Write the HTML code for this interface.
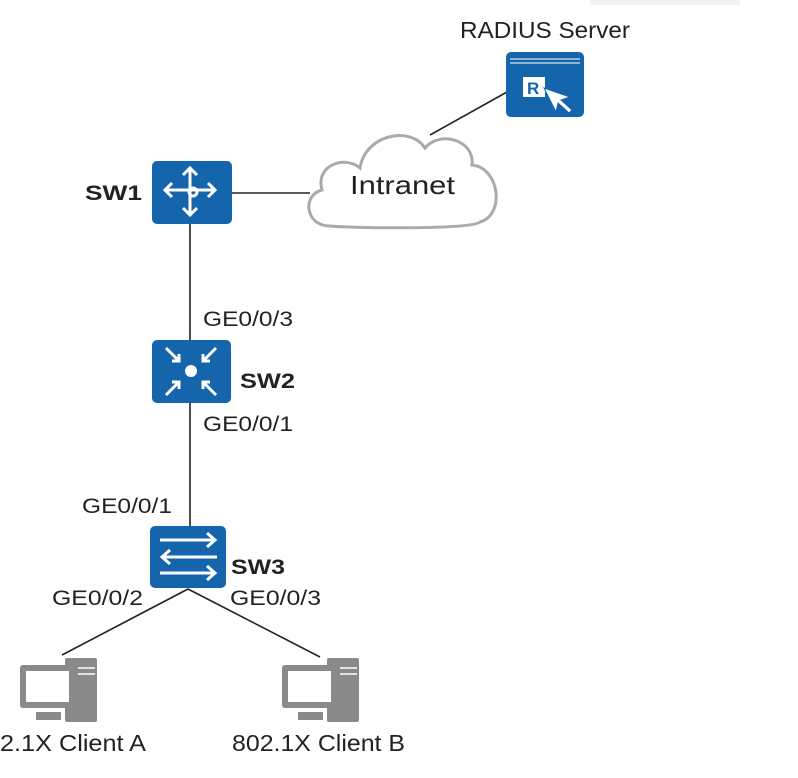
<!DOCTYPE html>
<html><head><meta charset="utf-8"><style>
body{margin:0;background:#fff;width:798px;height:778px;overflow:hidden}
svg{display:block}
text{font-family:"Liberation Sans",sans-serif;fill:#222}
</style></head><body>
<svg width="798" height="778" viewBox="0 0 798 778">
<rect x="590" y="0" width="150" height="5" fill="#f2f2f2"/>
<g stroke="#222" stroke-width="1.6" fill="none">
<line x1="232" y1="193" x2="310" y2="193"/>
<line x1="430" y1="135" x2="507" y2="92"/>
<line x1="190" y1="224" x2="190" y2="340"/>
<line x1="190" y1="403" x2="190" y2="526"/>
<line x1="188" y1="589" x2="62" y2="655"/>
<line x1="188" y1="589" x2="320" y2="657"/>
</g>
<path d="M330,226 C305,226 302,195 322,190 C315,165 345,155 360,168 C365,135 410,125 425,148 C440,130 475,140 472,165 C500,168 505,215 480,222 C470,230 350,228 330,226 Z" fill="#fff" stroke="#aaa" stroke-width="3"/>
<text x="350" y="194" font-size="26" textLength="105" lengthAdjust="spacingAndGlyphs">Intranet</text>
<text x="460" y="38" font-size="23" textLength="170" lengthAdjust="spacingAndGlyphs">RADIUS Server</text>
<rect x="506" y="52" width="78" height="65" rx="5" fill="#1565ad"/>
<line x1="510" y1="59" x2="580" y2="59" stroke="#fff" stroke-width="1"/>
<line x1="510" y1="63" x2="580" y2="63" stroke="#fff" stroke-width="1"/>
<rect x="523" y="77" width="22" height="20" fill="#fff"/>
<text x="527" y="94" font-size="17" font-weight="bold" style="fill:#1565ad">R</text>
<path d="M544,88 L556,112 L558,103 L569,113 L572,110 L561,100 L570,97 Z" fill="#fff" stroke="#1565ad" stroke-width="1"/>
<rect x="152" y="161" width="80" height="63" rx="5" fill="#1565ad"/>
<g stroke="#fff" stroke-width="3" fill="none">
<line x1="190" y1="168" x2="190" y2="215"/><line x1="165" y1="190" x2="215" y2="190"/>
<polyline points="183,175 190,168 197,175"/><polyline points="183,208 190,215 197,208"/>
<polyline points="172,183 165,190 172,197"/><polyline points="208,183 215,190 208,197"/>
<circle cx="193" cy="192" r="4"/>
</g>
<text x="85" y="200" font-size="21" font-weight="bold" textLength="57" lengthAdjust="spacingAndGlyphs">SW1</text>
<rect x="152" y="340" width="79" height="63" rx="5" fill="#1565ad"/>
<circle cx="191" cy="371" r="6" fill="#fff"/>
<g stroke="#fff" stroke-width="3" fill="none">
<line x1="166" y1="348" x2="179" y2="361"/><polyline points="172,361 179,361 179,354"/>
<line x1="216" y1="348" x2="203" y2="361"/><polyline points="210,361 203,361 203,354"/>
<line x1="166" y1="395" x2="179" y2="382"/><polyline points="172,382 179,382 179,389"/>
<line x1="216" y1="395" x2="203" y2="382"/><polyline points="210,382 203,382 203,389"/>
</g>
<text x="240" y="388" font-size="21" font-weight="bold" textLength="55" lengthAdjust="spacingAndGlyphs">SW2</text>
<rect x="150" y="526" width="76" height="62" rx="5" fill="#1565ad"/>
<g stroke="#fff" stroke-width="3" fill="none">
<line x1="160" y1="540" x2="215" y2="540"/><polyline points="207,533 215,540 207,547"/>
<line x1="162" y1="557" x2="217" y2="557"/><polyline points="170,550 162,557 170,564"/>
<line x1="160" y1="573" x2="215" y2="573"/><polyline points="207,566 215,573 207,580"/>
</g>
<text x="231" y="574" font-size="21" font-weight="bold" textLength="54" lengthAdjust="spacingAndGlyphs">SW3</text>
<g font-size="21">
<text x="203" y="326" textLength="90" lengthAdjust="spacingAndGlyphs">GE0/0/3</text>
<text x="203" y="431" textLength="90" lengthAdjust="spacingAndGlyphs">GE0/0/1</text>
<text x="82" y="513" textLength="90" lengthAdjust="spacingAndGlyphs">GE0/0/1</text>
<text x="52" y="605" textLength="91" lengthAdjust="spacingAndGlyphs">GE0/0/2</text>
<text x="230" y="605" textLength="91" lengthAdjust="spacingAndGlyphs">GE0/0/3</text>
</g>
<g fill="#8a8a8a">
<rect x="65" y="658" width="32" height="64" rx="2"/>
<rect x="20" y="665" width="55" height="43" rx="3"/>
<rect x="26" y="671" width="43" height="31" fill="#fff"/>
<rect x="36" y="712" width="25" height="8"/>
<rect x="327" y="658" width="32" height="64" rx="2"/>
<rect x="282" y="665" width="55" height="43" rx="3"/>
<rect x="288" y="671" width="43" height="31" fill="#fff"/>
<rect x="298" y="712" width="25" height="8"/>
</g>
<g stroke="#fff" stroke-width="1.5"><line x1="78" y1="668" x2="95" y2="668"/><line x1="78" y1="674" x2="95" y2="674"/><line x1="340" y1="668" x2="357" y2="668"/><line x1="340" y1="674" x2="357" y2="674"/></g>
<text x="0" y="751" font-size="23" textLength="146" lengthAdjust="spacingAndGlyphs">2.1X Client A</text>
<text x="232" y="751" font-size="23" textLength="173" lengthAdjust="spacingAndGlyphs">802.1X Client B</text>
</svg>
</body></html>
